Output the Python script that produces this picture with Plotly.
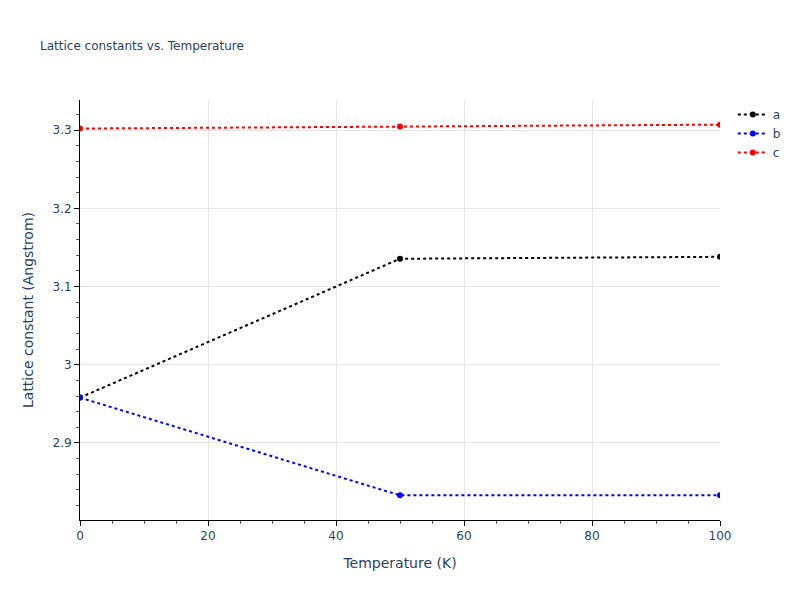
import plotly.graph_objects as go

temperature = [0, 50, 100]
lattice_a = [2.958, 3.1355, 3.138]
lattice_b = [2.958, 2.833, 2.833]
lattice_c = [3.302, 3.3045, 3.307]
series_names = ["a", "b", "c"]
series_colors = ["black", "blue", "red"]

fig = go.Figure()
for name, vals, col in zip(series_names, [lattice_a, lattice_b, lattice_c], series_colors):
    fig.add_trace(go.Scatter(
        x=temperature, y=vals, name=name, mode="lines+markers",
        line=dict(color=col, dash="dot", width=2),
        marker=dict(color=col, size=6),
    ))

fig.update_layout(
    template="plotly_white",
    width=800, height=600,
    font=dict(family="DejaVu Sans"),
    title=dict(text="Lattice constants vs. Temperature", font=dict(size=12)),
    xaxis=dict(
        title=dict(text="Temperature (K)"),
        range=[0, 100], showline=True, linecolor="black", linewidth=1,
        ticks="outside", tickcolor="black", gridcolor="#e5e5e5",
        zeroline=False, dtick=20,
        minor=dict(ticks="outside", dtick=5, tickcolor="#555", showgrid=False),
    ),
    yaxis=dict(
        title=dict(text="Lattice constant (Angstrom)"),
        range=[2.8015, 3.3385], showline=True, linecolor="black", linewidth=1,
        ticks="outside", tickcolor="black", gridcolor="#e5e5e5",
        zeroline=False, dtick=0.1,
        minor=dict(ticks="outside", dtick=0.02, tickcolor="#555", showgrid=False),
    ),
)

fig.write_html("out.html", config={"displayModeBar": False})
with open("out.html", "r", encoding="utf-8") as f:
    html = f.read()
html = html.replace("<body>", '<body style="margin:0;padding:0">', 1)
with open("out.html", "w", encoding="utf-8") as f:
    f.write(html)
